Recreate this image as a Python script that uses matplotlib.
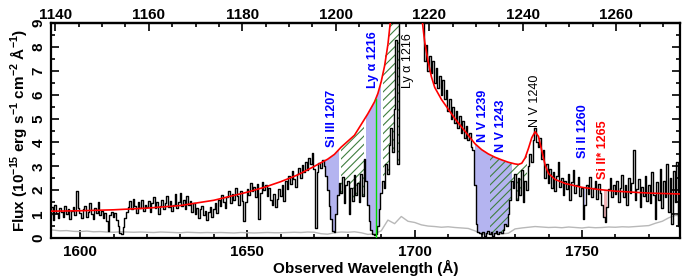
import numpy as np
import matplotlib.pyplot as plt
from matplotlib.ticker import MultipleLocator, FixedLocator

plt.rcParams['font.family'] = ['Liberation Sans', 'DejaVu Sans']
plt.rcParams['font.weight'] = 'bold'
plt.rcParams['mathtext.fontset'] = 'custom'
plt.rcParams['mathtext.rm'] = 'Liberation Sans:bold'
plt.rcParams['mathtext.default'] = 'rm'
plt.rcParams['hatch.linewidth'] = 0.8

# redshift factor between observed and rest frame
zfac = 1.397

# observed spectrum, 0.5 A bins from 1590 to 1780
wave = np.arange(1590.0, 1780.01, 0.5)
flux = np.array([
    1.45, 1.85, 0.95, 1.30, 0.75, 1.40, 1.05, 0.85, 1.25, 1.10, 0.90, 1.35, 1.00, 1.20, 0.80, 1.15, 1.30, 0.95, 1.95, 1.25,
    1.05, 0.85, 1.20, 1.35, 0.90, 1.10, 1.45, 1.00, 0.80, 1.25, 1.05, 1.50, 0.95, 1.15, 0.85, 1.05, 0.70, 0.30, 0.95, 1.10,
    0.90, 1.05, 0.75, 0.50, 0.20, 0.15, 0.45, 0.85, 1.10, 1.30, 1.55, 1.20, 1.65, 1.35, 1.05, 1.50, 1.25, 1.60, 1.15, 1.40,
    1.30, 1.55, 1.10, 1.45, 1.70, 1.25, 1.50, 1.00, 1.35, 1.60, 1.20, 1.45, 1.75, 1.30, 1.55, 1.15, 1.40, 1.85, 1.25, 1.50,
    1.90, 1.35, 1.60, 1.20, 1.75, 1.40, 1.55, 1.10, 1.45, 1.00, 1.25, 0.85, 1.20, 1.35, 0.95, 1.15, 0.75, 1.10, 1.30, 0.90,
    1.20, 1.45, 1.05, 1.60, 1.35, 1.80, 1.50, 1.25, 1.70, 1.95, 1.45, 1.85, 1.60, 2.10, 1.75, 1.40, 1.95, 1.55, 0.70, 1.50,
    2.05, 1.80, 2.30, 1.95, 2.15, 1.70, 2.25, 0.80, 1.90, 2.35, 2.00, 2.20, 1.75, 2.10, 1.60, 1.40, 1.85, 1.30, 1.65, 2.05,
    1.75, 2.20, 1.55, 2.40, 2.05, 2.60, 2.25, 2.80, 2.45, 2.15, 2.70, 2.95, 2.50, 3.05, 2.75, 3.20, 2.85, 3.35, 3.10, 3.55,
    2.90, 0.40, 2.75, 3.15, 2.95, 3.25, 3.00, 2.60, 2.00, 1.35, 0.80, 0.30, 0.25, 1.00, 1.80, 2.30, 1.90, 2.55, 1.45, 2.20,
    2.40, 1.00, 2.10, 1.55, 2.65, 1.80, 2.30, 1.50, 2.70, 1.75, 3.30, 2.40, 1.40, 0.70, 0.35, 0.15, 0.12, 0.15, 0.50, 1.20,
    1.90, 2.40, 2.10, 3.10, 2.70, 3.90, 4.60, 3.60, 5.40, 8.30, 3.10, 9.60, 10.5, 11.0, 11.5, 12.0, 12.0, 12.0, 12.0, 12.0,
    12.0, 12.0, 12.0, 12.0, 11.0, 9.80, 7.40, 8.10, 7.00, 7.60, 6.90, 7.40, 6.50, 7.10, 6.30, 6.80, 6.00, 6.60, 5.80, 6.20,
    5.30, 5.80, 5.00, 5.50, 4.80, 5.30, 4.60, 5.10, 4.40, 4.90, 4.20, 4.70, 4.10, 4.40, 3.80, 3.70, 2.20, 0.60, 0.25, 0.20,
    0.15, 0.25, 0.10, 0.20, 0.30, 0.15, 0.25, 0.10, 0.20, 0.30, 0.15, 0.25, 0.20, 0.35, 0.60, 0.50, 1.00, 1.60, 2.40, 2.10,
    2.70, 1.60, 2.50, 1.80, 2.85, 1.50, 2.40, 2.00, 3.00, 3.50, 3.20, 4.10, 4.60, 4.00, 3.80, 4.20, 3.30, 3.70, 2.50, 3.10,
    2.30, 2.90, 2.10, 2.75, 1.95, 2.60, 3.20, 2.15, 2.50, 1.80, 2.40, 2.05, 2.70, 1.60, 2.35, 2.85, 1.90, 2.20, 2.55, 1.75,
    2.10, 0.80, 1.40, 2.20, 1.85, 2.55, 1.70, 2.10, 2.40, 1.65, 2.25, 1.90, 1.40, 0.90, 0.65, 1.30, 2.05, 2.50, 1.70, 2.20,
    1.85, 2.40, 1.50, 2.10, 2.65, 1.70, 2.20, 1.40, 2.50, 1.90, 2.30, 3.70, 1.60, 2.05, 2.45, 1.30, 2.15, 1.75, 2.60, 1.55,
    2.20, 1.45, 2.75, 1.80, 0.80, 2.35, 1.60, 2.90, 1.25, 2.40, 1.70, 3.10, 1.10, 2.50, 0.60, 2.80, 1.50, 3.20, 0.50, 2.30, 1.90,
])

# error spectrum, 2 A bins
err_wave = np.arange(1590.0, 1780.01, 2.0)
err = np.array([
    0.36, 0.33, 0.30, 0.31, 0.28,
    0.27, 0.29, 0.26, 0.27, 0.25, 0.24, 0.26, 0.25, 0.24, 0.25,
    0.24, 0.23, 0.25, 0.24, 0.23, 0.22, 0.24, 0.23, 0.22, 0.23,
    0.22, 0.23, 0.22, 0.21, 0.23, 0.22, 0.21, 0.22, 0.23, 0.22,
    0.22, 0.23, 0.24, 0.23, 0.25, 0.24, 0.18, 0.16, 0.22, 0.25,
    0.24, 0.26, 0.22, 0.15, 0.18, 0.30, 0.75, 0.60, 0.90, 0.70,
    0.65, 0.55, 0.50, 0.48, 0.45, 0.47, 0.44, 0.42, 0.40, 0.30,
    0.18, 0.16, 0.18, 0.17, 0.20, 0.38, 0.42, 0.45, 0.48, 0.46,
    0.44, 0.45, 0.43, 0.46, 0.44, 0.42, 0.45, 0.43, 0.44, 0.46,
    0.45, 0.47, 0.46, 0.48, 0.50, 0.52, 0.62, 0.70, 0.85, 0.95,
    0.90,
])

# continuum fit (red)
cont_wave = [1590, 1600, 1610, 1620, 1630, 1640, 1650, 1655, 1660, 1665, 1670, 1672, 1674, 1676, 1678,
             1680, 1682, 1684, 1686, 1687, 1688, 1689, 1690, 1691, 1692, 1693, 1694, 1695, 1696,
             1701, 1702, 1703, 1704, 1705, 1706, 1708, 1710, 1712, 1714, 1716, 1718, 1720, 1722, 1724,
             1726, 1728, 1730, 1731, 1732, 1733, 1734, 1735, 1736, 1737, 1738, 1739, 1740, 1742, 1745,
             1750, 1755, 1760, 1765, 1770, 1775, 1780]
cont_flux = [1.12, 1.14, 1.18, 1.25, 1.36, 1.58, 1.92, 2.12, 2.36, 2.64, 3.00, 3.15, 3.30, 3.50, 3.80,
             4.05, 4.30, 4.75, 5.20, 5.45, 5.70, 6.05, 6.55, 7.20, 8.10, 9.40, 11.0, 13.0, 15.0,
             12.0, 9.40, 8.20, 7.40, 6.75, 6.30, 5.80, 5.40, 5.00, 4.65, 4.30, 3.95, 3.70, 3.52, 3.38,
             3.27, 3.17, 3.10, 3.08, 3.13, 3.35, 3.75, 4.20, 4.45, 4.25, 3.65, 3.05, 2.70, 2.45, 2.28,
             2.12, 2.03, 1.96, 1.92, 1.88, 1.86, 1.84]

# absorption regions (observed A)
blue_ranges = [(1672.8, 1677.7), (1685.3, 1690.4), (1717.7, 1729.3), (1750.2, 1751.4)]
hatch_ranges = [(1677.7, 1685.3), (1690.4, 1695.8), (1722.3, 1733.8)]
pink_ranges = [(1756.2, 1757.7)]
lya_abs = 1688.3

# line labels: text, wavelength, bottom of text, colour, bold
labels = [('Si III 1207', 1675.3, 3.8, 'blue', True),
          ('Ly α 1216', 1687.4, 6.3, 'blue', True),
          ('Ly α 1216', 1698.0, 6.3, 'black', False),
          ('N V 1239', 1720.4, 4.0, 'blue', True),
          ('N V 1243', 1725.7, 3.6, 'blue', True),
          ('N V 1240', 1736.0, 4.65, 'black', False),
          ('Si II 1260', 1750.3, 3.35, 'blue', True),
          ('Si II* 1265', 1756.3, 2.45, 'red', True)]

top_ticks = [1140, 1160, 1180, 1200, 1220, 1240, 1260]
top_minor = list(range(1140, 1276, 5))

fig = plt.figure(figsize=(7, 2.79), dpi=100)
ax = fig.add_axes([51/700, 1-238/279, 629/700, 215/279])

cont_on_grid = np.interp(wave, cont_wave, cont_flux)

for lo, hi in blue_ranges:
    m = (wave >= lo) & (wave <= hi)
    ax.fill_between(wave, flux, cont_on_grid, where=m, step='mid',
                    facecolor='#b4b4f0', edgecolor='none', zorder=1)
for lo, hi in pink_ranges:
    m = (wave >= lo) & (wave <= hi)
    ax.fill_between(wave, flux, cont_on_grid, where=m, step='mid',
                    facecolor='#f0b4b8', edgecolor='none', zorder=1)
for lo, hi in hatch_ranges:
    m = (wave >= lo) & (wave <= hi)
    ax.fill_between(wave, flux, cont_on_grid, where=m, step='mid',
                    facecolor='none', edgecolor='#3f7f3f', hatch='////',
                    linewidth=0, zorder=2)

ax.plot(err_wave, err, color='#b8b8b8', lw=1.0, zorder=2)
ax.plot(wave, flux, color='black', lw=1.0, drawstyle='steps-mid', zorder=3)
ax.plot(cont_wave, cont_flux, color='red', lw=1.2, zorder=4)
ax.plot([lya_abs, lya_abs], [0, np.interp(lya_abs, cont_wave, cont_flux)],
        color='#00dd00', lw=1.0, zorder=4)

for txt, w, yb, col, bold in labels:
    ax.text(w, yb, txt, rotation=90, ha='center', va='bottom', color=col,
            fontsize=9, fontweight='bold' if bold else 'normal')

ax.set_xlim(1591.3, 1779.3)
ax.set_ylim(0, 9)
ax.set_yticks(range(10))
ax.yaxis.set_minor_locator(MultipleLocator(0.5))
ax.xaxis.set_major_locator(MultipleLocator(50))
ax.xaxis.set_minor_locator(MultipleLocator(10))
ax.tick_params(which='both', direction='in', top=False, right=True, width=1.2, labelsize=11)
ax.tick_params(which='major', length=6)
ax.tick_params(which='minor', length=3)
ax.tick_params(axis='y', labelrotation=90, pad=4)
ax.tick_params(axis='x', pad=5)
plt.setp(ax.get_yticklabels(), va='center')
for s in ax.spines.values():
    s.set_linewidth(1.6)

top = ax.secondary_xaxis('top', functions=(lambda w: w / zfac, lambda r: r * zfac))
top.xaxis.set_major_locator(FixedLocator(top_ticks))
top.xaxis.set_minor_locator(FixedLocator(top_minor))
top.tick_params(which='both', direction='in', width=1.2, labelsize=11, pad=1)
top.tick_params(which='major', length=6)
top.tick_params(which='minor', length=3)
top.spines['top'].set_linewidth(1.6)

ax.set_xlabel('Observed Wavelength (Å)', fontsize=11, fontweight='bold', labelpad=1)
ax.set_ylabel('Flux (10$^{-15}$ erg s$^{-1}$ cm$^{-2}$ Å$^{-1}$)', fontsize=11,
              fontweight='bold', labelpad=2)

fig.savefig('out.png', dpi=100)
